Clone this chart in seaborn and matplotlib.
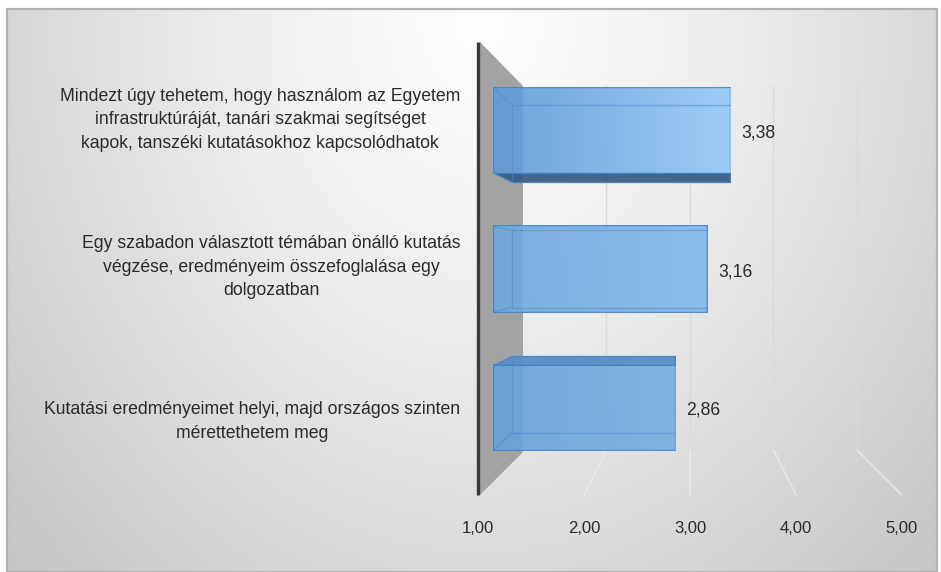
import numpy as np
import pandas as pd
import matplotlib
matplotlib.use("Agg")
import matplotlib.pyplot as plt
import matplotlib.transforms as mtransforms
from matplotlib.patches import Polygon, Rectangle
import seaborn as sns

# ---------------- data ----------------
categories = [
    "Mindezt úgy tehetem, hogy használom az Egyetem\ninfrastruktúráját, tanári szakmai segítséget\nkapok, tanszéki kutatásokhoz kapcsolódhatok",
    "Egy szabadon választott témában önálló kutatás\nvégzése, eredményeim összefoglalása egy\ndolgozatban",
    "Kutatási eredményeimet helyi, majd országos szinten\nmérettethetem meg",
]
values = [3.38, 3.16, 2.86]
value_labels = ["3,38", "3,16", "2,86"]
x_ticks = [1, 2, 3, 4, 5]
x_tick_labels = ["1,00", "2,00", "3,00", "4,00", "5,00"]

# ---------------- style ----------------
bar_left_colors = ["#5f9ad6", "#6fa8de", "#67a1d9"]
bar_right_colors = ["#95c8f6", "#82b8ea", "#78afe1"]
edge_color = "#3f82c8"
text_color = "#2a2a2a"

W, H = 941, 572
sns.set_theme(style="white")
plt.rcParams["font.family"] = ["Liberation Sans", "DejaVu Sans"]

fig = plt.figure(figsize=(W / 100, H / 100), dpi=100)
fig.patch.set_facecolor("white")

# background (pixel coordinates)
bg = fig.add_axes([0, 0, 1, 1], zorder=0)
bg.set_xlim(0, W)
bg.set_ylim(H, 0)
bg.axis("off")
yy, xx = np.mgrid[9:H, 7:937]
d = np.sqrt(((xx - 480) / 520.0) ** 2 + ((yy - 20) / 640.0) ** 2)
val = 254 - 58 * np.clip(d / 1.25, 0, 1) ** 1.25
img = np.dstack([val, val, val]) / 255.0
bg.imshow(img, extent=[7, 937, H, 9], aspect="auto", interpolation="bilinear")
bg.add_patch(Rectangle((7, 9), 930, H - 9, fill=False, ec="#b2b2b2", lw=1.6))

# side wall
bg.add_patch(Polygon([(480, 42), (523, 86), (523, 452), (480, 495)],
                     closed=True, fc="#a3a3a3", ec="none"))
bg.plot([478.5, 478.5], [42, 495], color="#3a3a3a", lw=2.4, solid_capstyle="butt")

# perspective gridlines (back wall + floor)
for v in x_ticks[1:]:
    xb = 523 + 83.5 * (v - 1)
    xf = 478 + 106 * (v - 1)
    bg.plot([xb, xb], [86, 450], color="#d9d9d9", lw=1.0)
    bg.plot([xb, xf], [450, 495], color="#e9e9e9", lw=1.1)
bg.set_xlim(0, W)
bg.set_ylim(H, 0)

# main axes
ax = fig.add_axes([478 / W, (H - 495) / H, (902 - 478) / W, (495 - 42) / H], zorder=2)
ax.set_facecolor("none")
df = pd.DataFrame({"cat": categories, "val": values})
sns.barplot(data=df, y="cat", x="val", orient="h", ax=ax, width=0.614,
            color=bar_left_colors[0], saturation=1)
bar_start = 1.151
patches = list(ax.patches)
for i, (p, v) in enumerate(zip(patches, values)):
    p.set_x(bar_start)
    p.set_width(v - bar_start)
    p.set_facecolor("none")
    p.set_edgecolor(edge_color)
    p.set_linewidth(1.3)
    c0 = np.array(matplotlib.colors.to_rgb(bar_left_colors[i]))
    c1 = np.array(matplotlib.colors.to_rgb(bar_right_colors[i]))
    t = np.linspace(0, 1, 200)[None, :, None]
    grad = c0 + (c1 - c0) * t
    y0 = p.get_y()
    im = ax.imshow(grad, extent=[bar_start, v, y0 + p.get_height(), y0],
                   aspect="auto", alpha=0.9, zorder=1.5)
    im.set_clip_path(p)

ax.set_xlim(1, 5)
ax.set_ylim(2.632, -0.639)
ax.set_xticks(x_ticks)
ax.set_xticklabels(x_tick_labels)
ax.set_yticks([])
ax.set_xlabel("")
ax.set_ylabel("")
ax.tick_params(axis="x", length=0, pad=19, labelsize=12, labelcolor=text_color)
for s in ax.spines.values():
    s.set_visible(False)

trans = mtransforms.blended_transform_factory(ax.transAxes, ax.transData)
label_offsets_px = [-10.5, -1.5, 14]
for i, (cat, off) in enumerate(zip(categories, label_offsets_px)):
    ax.text(-0.042, i + off / 138.5, cat, transform=trans, ha="right", va="center",
            multialignment="center", fontsize=12.7, color=text_color, linespacing=1.5)
for i, (v, lbl) in enumerate(zip(values, value_labels)):
    ax.text(v + 11 / 106, i + 3 / 138.5, lbl, ha="left", va="center",
            fontsize=12.7, color=text_color)

# 3D faces overlay (pixel coordinates derived from the bars)
ov = fig.add_axes([0, 0, 1, 1], zorder=3)
ov.set_xlim(0, W)
ov.set_ylim(H, 0)
ov.axis("off")
ov.set_facecolor("none")
eye = 269.0
for i, p in enumerate(patches):
    (x0, ya), (x1, yb) = ax.transData.transform(
        [(p.get_x(), p.get_y()), (p.get_x() + p.get_width(), p.get_y() + p.get_height())])
    L, R = x0, x1
    T, B = sorted([H - ya, H - yb])
    c = (T + B) / 2
    h = B - T
    cb = c + (eye - c) * 0.094
    hb = h * 0.906
    Tb, Bb = cb - hb / 2, cb + hb / 2
    Lb = L + 18
    if Bb > B + 1:
        ov.add_patch(Polygon([(L, B), (R, B), (R, Bb), (Lb, Bb)], closed=True,
                             fc="#3b5e82", ec=edge_color, lw=0.8, alpha=0.95))
    if Tb < T - 1:
        ov.add_patch(Polygon([(L, T), (R, T), (R, Tb), (Lb, Tb)], closed=True,
                             fc="#5a8cc2", ec=edge_color, lw=0.8, alpha=0.95))
    # back edges seen through translucent front
    ov.plot([Lb, R], [Tb, Tb], color="#4a8ad0", lw=1.0, alpha=0.5)
    ov.plot([Lb, R], [Bb, Bb], color="#4a8ad0", lw=1.0, alpha=0.5)
    ov.plot([Lb, Lb], [Tb, Bb], color="#4a8ad0", lw=1.0, alpha=0.5)
    ov.plot([L, Lb], [T, Tb], color="#4a8ad0", lw=1.0, alpha=0.5)
    ov.plot([L, Lb], [B, Bb], color="#4a8ad0", lw=1.0, alpha=0.5)
ov.set_xlim(0, W)
ov.set_ylim(H, 0)

fig.savefig("out.png", dpi=100)
